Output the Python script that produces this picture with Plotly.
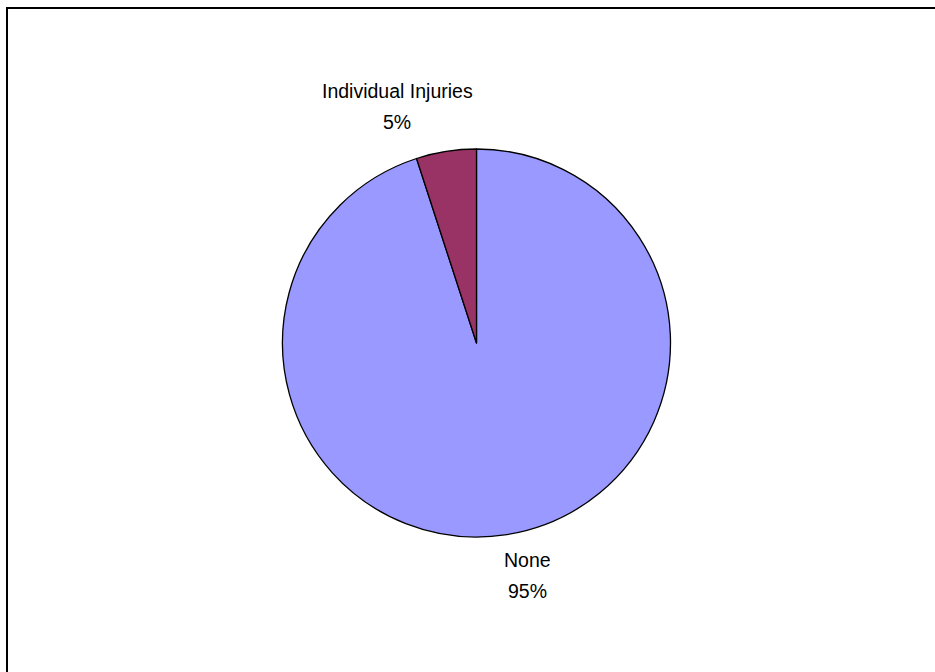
import plotly.graph_objects as go

# drawing order: clockwise from 12 o'clock
labels = ["None", "Individual Injuries"]
values = [95, 5]
colors = ["#9999FF", "#993366"]
label_x = [527, 397]          # pixel centres of label blocks
label_line_y = [(559.5, 590.5), (91, 122.5)]

W, H = 935, 672
cx, cy, r = 476.5, 343, 194

fig = go.Figure()
fig.add_trace(go.Pie(
    labels=labels, values=values, sort=False, direction="clockwise",
    rotation=0, textinfo="none", hoverinfo="label+percent",
    marker=dict(colors=colors, line=dict(color="#000000", width=1.3)),
    domain=dict(x=[(cx - r) / W, (cx + r) / W], y=[(H - cy - r) / H, (H - cy + r) / H]),
    showlegend=False,
))

FONT = dict(family="Liberation Sans, Arial", size=19.5, color="#000000")
total = sum(values)
for lab, val, px, (y1, y2) in zip(labels, values, label_x, label_line_y):
    for txt, py in ((lab, y1), (f"{round(100 * val / total)}%", y2)):
        fig.add_annotation(
            x=px / W, y=1 - py / H, xref="paper", yref="paper",
            text=txt, showarrow=False, xanchor="center", yanchor="middle",
            font=FONT,
        )

fig.add_shape(type="rect", xref="paper", yref="paper",
              x0=7 / W, x1=1.2, y0=-0.2, y1=1 - 8 / H,
              line=dict(color="#000000", width=2), fillcolor="rgba(0,0,0,0)")

fig.update_layout(width=W, height=H, margin=dict(l=0, r=0, t=0, b=0),
                  paper_bgcolor="#FFFFFF", plot_bgcolor="#FFFFFF")
fig.write_html("out.html")
